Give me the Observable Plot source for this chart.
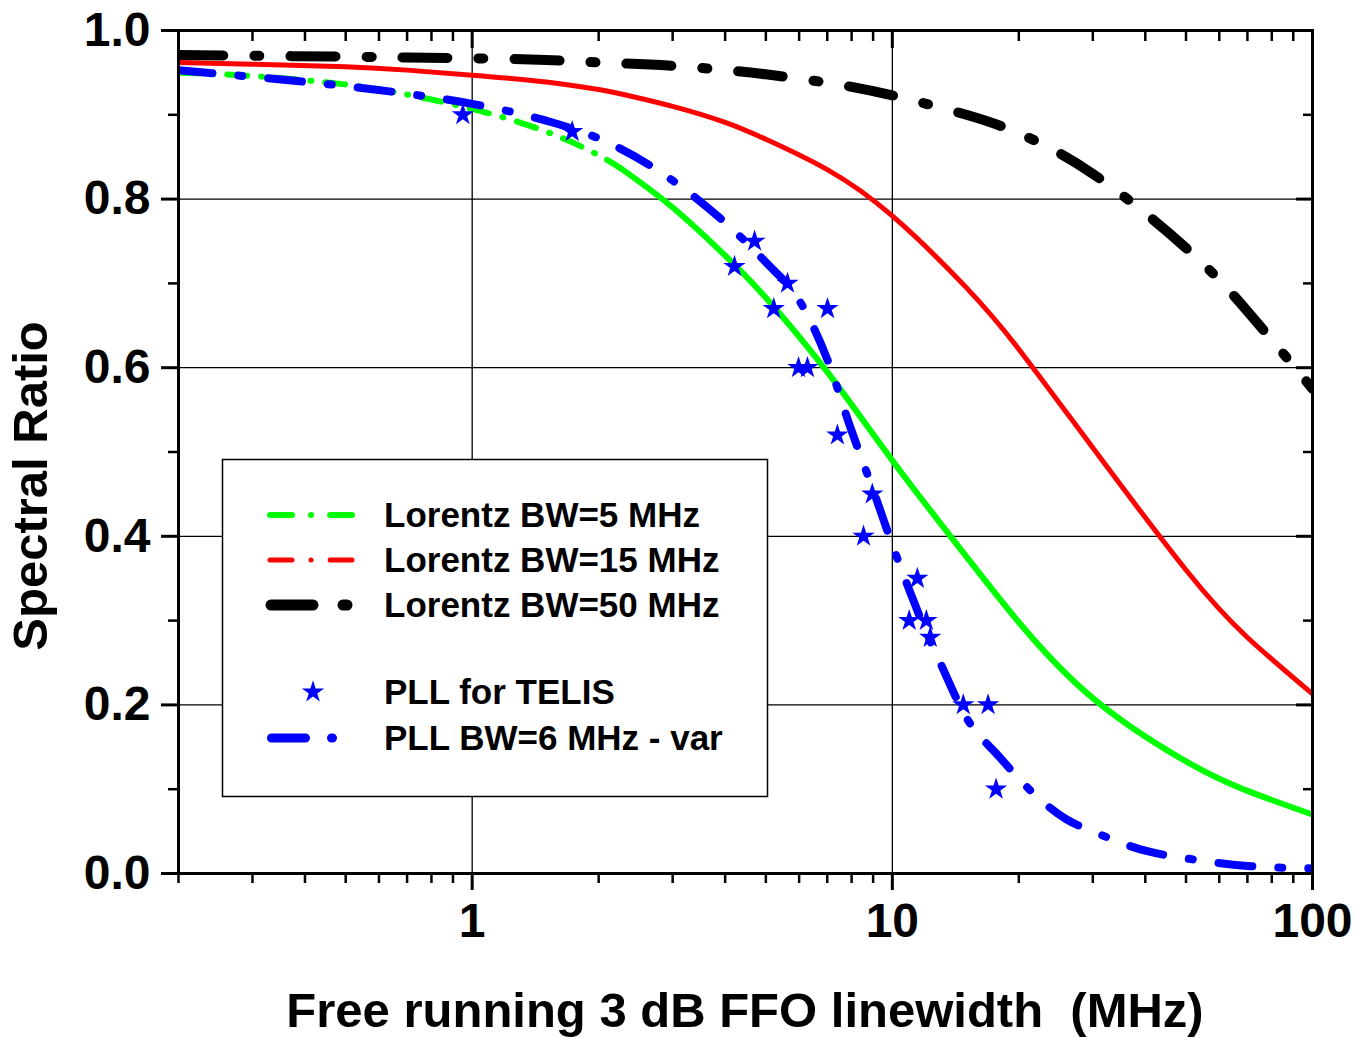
<!DOCTYPE html>
<html><head><meta charset="utf-8">
<script src="https://cdn.jsdelivr.net/npm/d3@7"></script>
<script src="https://cdn.jsdelivr.net/npm/@observablehq/plot@0.6"></script>
<style>
body{margin:0;background:#fff;}
#chart{width:1358px;height:1038px;}
</style></head><body><div id="chart"></div>
<script>
// ---- data ----
const lorentzX  = [0.2, 0.3, 0.5, 0.7, 1, 1.5, 2, 2.25, 3, 4, 5, 7, 10, 15, 20, 30, 50, 70, 100];
const lorentz5  = [0.950, 0.946, 0.936, 0.924, 0.907, 0.880, 0.852, 0.837, 0.790, 0.733, 0.683, 0.595, 0.490, 0.376, 0.298, 0.208, 0.133, 0.098, 0.070];
const lorentz15 = [0.962, 0.960, 0.957, 0.953, 0.947, 0.939, 0.930, 0.925, 0.910, 0.891, 0.871, 0.835, 0.780, 0.695, 0.622, 0.505, 0.360, 0.280, 0.213];
const lorentz50 = [0.971, 0.970, 0.969, 0.968, 0.967, 0.965, 0.962, 0.961, 0.958, 0.953, 0.948, 0.938, 0.923, 0.900, 0.878, 0.830, 0.742, 0.667, 0.575];
const pllX = [0.2, 0.3, 0.5, 0.7, 1, 1.5, 2, 3, 4, 5, 6, 7, 8, 9, 10, 11, 12, 13, 15, 18, 22, 26, 30, 40, 50, 70, 100];
const pllY = [0.953, 0.945, 0.934, 0.925, 0.913, 0.893, 0.872, 0.822, 0.772, 0.725, 0.680, 0.610, 0.525, 0.455, 0.390, 0.335, 0.288, 0.250, 0.185, 0.138, 0.092, 0.064, 0.050, 0.027, 0.018, 0.009, 0.006];
const telisX = [0.95, 1.73, 4.70, 4.21, 5.63, 5.22, 7.01, 5.98, 6.28, 7.40, 8.96, 8.54, 11.47, 10.97, 12.05, 12.31, 14.75, 16.9, 17.66];
const telisY = [0.90, 0.88, 0.75, 0.72, 0.70, 0.67, 0.67, 0.60, 0.60, 0.52, 0.45, 0.40, 0.35, 0.30, 0.30, 0.28, 0.20, 0.20, 0.10];
const xMajor = [1, 10, 100];
const xTickLabels = ["1", "10", "100"];
const xMinor = [0.2, 0.3, 0.4, 0.5, 0.6, 0.7, 0.8, 0.9, 2, 3, 4, 5, 6, 7, 8, 9, 20, 30, 40, 50, 60, 70, 80, 90];
const yMajor = [0, 0.2, 0.4, 0.6, 0.8, 1.0];
const yTickLabels = ["0.0", "0.2", "0.4", "0.6", "0.8", "1.0"];
const yMinor = [0.1, 0.3, 0.5, 0.7, 0.9];
const xGrid = [1, 10];
const yGrid = [0.2, 0.4, 0.6, 0.8];
const legendLabels = ["Lorentz BW=5 MHz", "Lorentz BW=15 MHz", "Lorentz BW=50 MHz", "PLL for TELIS", "PLL BW=6 MHz - var"];
const xTitle = "Free running 3 dB FFO linewidth  (MHz)";
const yTitle = "Spectral Ratio";

// ---- styles ----
const font = "'Liberation Sans', Arial, Helvetica, sans-serif";
const GREEN = "#00ff00", RED = "#ff0000", BLACK = "#000000", BLUE = "#0000ff";
const W = 1358, H = 1038, mL = 178, mR = 46, mT = 30, mB = 165;

const rows = lorentzX.map((x, i) => ({x, g: lorentz5[i], r: lorentz15[i], k: lorentz50[i]}));
const greenDashed = rows.filter(d => d.x <= 2.25);
const greenSolid = rows.filter(d => d.x >= 2.25);
const pll = pllX.map((x, i) => ({x, y: pllY[i]}));
const stars = telisX.map((x, i) => ({x, y: telisY[i]}));
const xLab = xMajor.map((x, i) => ({x, label: xTickLabels[i]}));

const tickCommon = {stroke: "black", label: null, fontSize: 48, fontWeight: "bold"};
const empty = () => "";

const chart = Plot.plot({
  width: W, height: H,
  marginLeft: mL, marginRight: mR, marginTop: mT, marginBottom: mB,
  style: {fontFamily: font, fontWeight: "bold", fontSize: "48px", background: "white", color: "black", overflow: "visible"},
  x: {type: "log", domain: [0.2, 100]},
  y: {domain: [0, 1]},
  marks: [
    Plot.gridX(xGrid, {stroke: "black", strokeOpacity: 1, strokeWidth: 1.3}),
    Plot.gridY(yGrid, {stroke: "black", strokeOpacity: 1, strokeWidth: 1.3}),
    Plot.line(greenDashed, {x: "x", y: "g", stroke: GREEN, strokeWidth: 6, strokeDasharray: "20,14,1,14", strokeLinecap: "round", curve: "natural", clip: true}),
    Plot.line(greenSolid, {x: "x", y: "g", stroke: GREEN, strokeWidth: 6, curve: "natural", clip: true}),
    Plot.line(rows, {x: "x", y: "r", stroke: RED, strokeWidth: 5, curve: "natural", clip: true}),
    Plot.line(rows, {x: "x", y: "k", stroke: BLACK, strokeWidth: 10, strokeDasharray: "45,31,5,31", strokeLinecap: "round", curve: "natural", clip: true}),
    Plot.line(pll, {x: "x", y: "y", stroke: BLUE, strokeWidth: 8, strokeDasharray: "34,26,4,26", strokeLinecap: "round", curve: "monotone-x", clip: true}),
    Plot.dot(stars, {x: "x", y: "y", symbol: "star", fill: BLUE, stroke: "none", r: 7}),
    Plot.frame({stroke: "black", strokeWidth: 3}),
    Plot.axisX(xMajor, {...tickCommon, anchor: "bottom", tickSize: 17, strokeWidth: 3, tickFormat: empty}),
    Plot.text(xLab, {x: "x", text: "label", frameAnchor: "bottom", dy: 29, lineAnchor: "top", fontSize: 48, fontWeight: "bold", fill: "black"}),
    Plot.axisX(xMinor, {...tickCommon, anchor: "bottom", tickSize: 10, strokeWidth: 2.5, tickFormat: empty}),
    Plot.axisX(xMajor, {...tickCommon, anchor: "top", tickSize: -17, strokeWidth: 3, tickFormat: empty}),
    Plot.axisX(xMinor, {...tickCommon, anchor: "top", tickSize: -10, strokeWidth: 2.5, tickFormat: empty}),
    Plot.axisY(yMajor, {...tickCommon, anchor: "left", tickSize: 17, tickPadding: 11, strokeWidth: 3, tickFormat: (d, i) => yTickLabels[i]}),
    Plot.axisY(yMinor, {...tickCommon, anchor: "left", tickSize: 10, strokeWidth: 2.5, tickFormat: empty}),
    Plot.axisY(yMajor, {...tickCommon, anchor: "right", tickSize: -17, strokeWidth: 3, tickFormat: empty}),
    Plot.axisY(yMinor, {...tickCommon, anchor: "right", tickSize: -10, strokeWidth: 2.5, tickFormat: empty})
  ]
});
document.getElementById("chart").appendChild(chart);

// ---- axis titles ----
const svg = d3.select(chart);
svg.append("text")
  .attr("x", (mL + W - mR) / 2).attr("y", 1027)
  .attr("text-anchor", "middle")
  .style("font-family", font).style("font-weight", "bold").style("font-size", "49px")
  .style("white-space", "pre").attr("fill", "black")
  .text(xTitle);
svg.append("text")
  .attr("transform", "translate(47,486) rotate(-90)")
  .attr("text-anchor", "middle")
  .style("font-family", font).style("font-weight", "bold").style("font-size", "49px")
  .attr("fill", "black")
  .text(yTitle);

// ---- legend ----
const lg = svg.append("g").attr("text-anchor", "start");
lg.append("rect").attr("x", 222.5).attr("y", 459.5).attr("width", 545).attr("height", 337)
  .attr("fill", "white").attr("stroke", "black").attr("stroke-width", 1.5);
const rowY = [515, 560, 605, 692, 738];
const samples = [
  {stroke: GREEN, w: 6, dash: "22,19,0.1,19,22", x1: 270, x2: 352},
  {stroke: RED, w: 5, dash: "22,19,0.1,19,22", x1: 270, x2: 352},
  {stroke: BLACK, w: 11, dash: "42,30,4,30", x1: 271, x2: 347},
  null,
  {stroke: BLUE, w: 9, dash: "34,26,1,26", x1: 271.5, x2: 332.5}
];
legendLabels.forEach((label, i) => {
  const y = rowY[i];
  const s = samples[i];
  if (s) {
    lg.append("path").attr("d", `M${s.x1},${y}H${s.x2}`)
      .attr("stroke", s.stroke).attr("stroke-width", s.w).attr("fill", "none")
      .attr("stroke-dasharray", s.dash).attr("stroke-linecap", "round");
  } else {
    lg.append("path").attr("d", d3.symbol(d3.symbolStar, Math.PI * 7 * 7)())
      .attr("transform", `translate(313,${y})`).attr("fill", BLUE);
  }
  lg.append("text").attr("x", 384).attr("y", y).attr("dy", "0.35em")
    .attr("text-anchor", "start")
    .style("font-family", font).style("font-weight", "bold").style("font-size", "35px")
    .attr("fill", "black").text(label);
});
</script>
</body></html>
